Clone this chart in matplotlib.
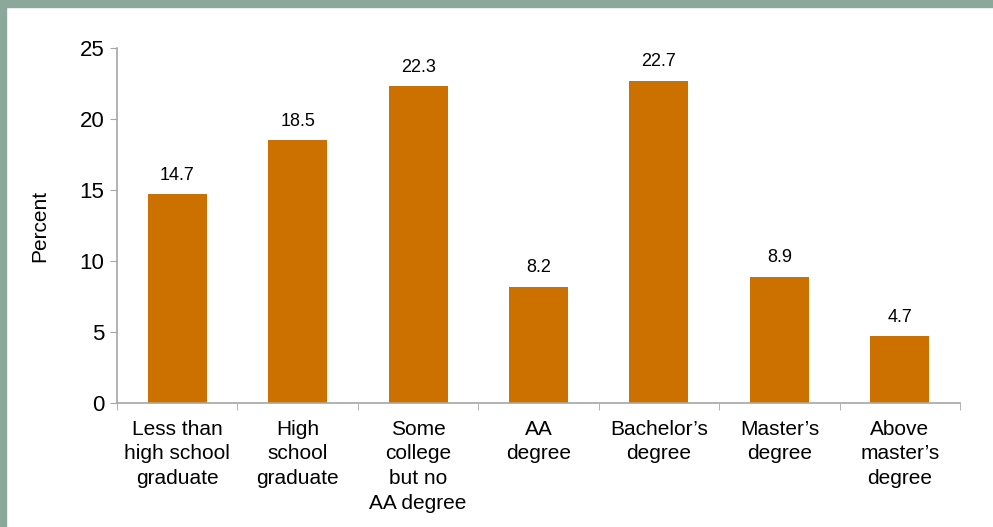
import matplotlib.pyplot as plt
from matplotlib.patches import Rectangle
import numpy as np

categories = ["Less than\nhigh school\ngraduate", "High\nschool\ngraduate",
              "Some\ncollege\nbut no\nAA degree", "AA\ndegree",
              "Bachelor\u2019s\ndegree", "Master\u2019s\ndegree",
              "Above\nmaster\u2019s\ndegree"]
percent = [14.7, 18.5, 22.3, 8.2, 22.7, 8.9, 4.7]

plt.rcParams['font.family'] = ['Liberation Sans', 'DejaVu Sans']

fig = plt.figure(figsize=(9.93, 5.27), dpi=100)
ax = fig.add_axes([0.1178, 0.2353, 0.849, 0.6736])

# frame bands along the top and left edge
border = "#8BA89B"
fig.patches.append(Rectangle((0, 1 - 7 / 527), 1, 7 / 527, transform=fig.transFigure,
                             color=border, zorder=0))
fig.patches.append(Rectangle((0, 0), 6 / 993, 1, transform=fig.transFigure,
                             color=border, zorder=0))

x = np.arange(len(categories))
bars = ax.bar(x, percent, width=0.49, color="#CC7000", zorder=2)
for b, v in zip(bars, percent):
    ax.text(b.get_x() + b.get_width() / 2, v + 0.75, "{:.1f}".format(v),
            ha="center", va="bottom", fontsize=13)

ax.set_xlim(-0.5, len(categories) - 0.5)
ax.set_ylim(0, 25)
ax.set_yticks([0, 5, 10, 15, 20, 25])
ax.tick_params(axis="y", labelsize=16, length=5, color="#A6A6A6", pad=4)

# category labels centred under bars, tick marks between categories
ax.set_xticks(x)
ax.set_xticklabels(categories, fontsize=15, linespacing=1.38)
ax.tick_params(axis="x", length=0, pad=12)
ax.set_xticks(np.arange(len(categories) + 1) - 0.5, minor=True)
ax.tick_params(axis="x", which="minor", length=5, color="#A6A6A6")

for s in ["top", "right"]:
    ax.spines[s].set_visible(False)
for s in ["left", "bottom"]:
    ax.spines[s].set_color("#A6A6A6")
    ax.spines[s].set_linewidth(1.2)

ax.set_ylabel("Percent", fontsize=15, labelpad=22)

fig.savefig("out.png", dpi=100)
